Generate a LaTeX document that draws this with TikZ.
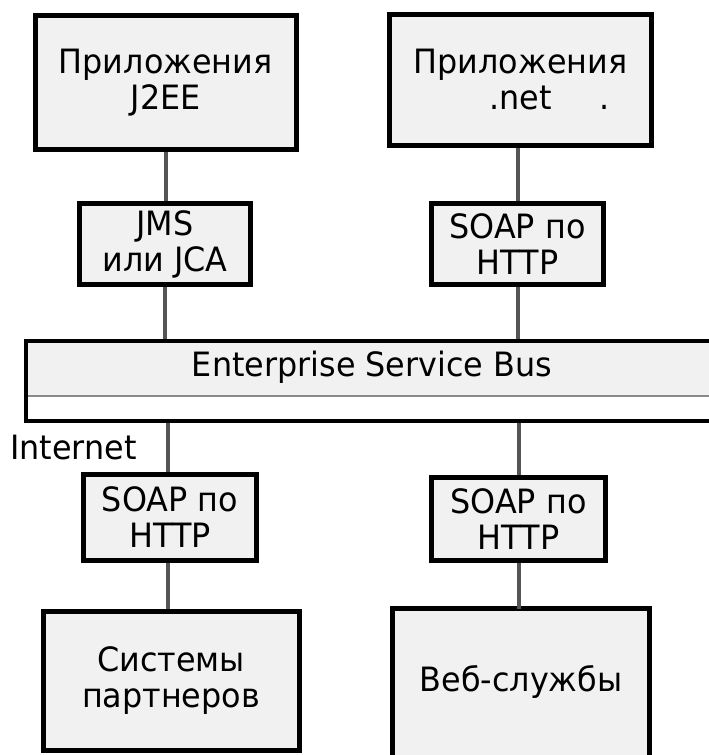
\documentclass[tikz,border=0pt]{standalone}
\usepackage{fontspec}
\setmainfont{DejaVu Sans}[FakeStretch=0.95]
\definecolor{boxfill}{HTML}{F1F1F1}
\definecolor{conngray}{HTML}{555555}
\definecolor{rulegray}{HTML}{8A8A8A}
\begin{document}
\begin{tikzpicture}[x=1pt,y=-1pt,
  txt/.style={font=\fontsize{33.5}{36}\selectfont,align=center,inner sep=0pt},
  box/.style={txt,draw=black,line width=5pt,fill=boxfill},
  openbox/.style={txt,fill=boxfill},
  conn/.style={draw=conngray,line width=4pt}]
\useasboundingbox (0,0) rectangle (709,755);

% top applications
\node[box,minimum width=261pt,minimum height=134pt] (appA) at (165.6,82.5) {Приложения\\J2EE};
\node[box,minimum width=262pt,minimum height=131pt] (appB) at (520.5,80) {Приложения\\.net\rlap{\hspace{48pt}.}};

% adapters
\node[box,minimum width=171pt,minimum height=81pt] (jms) at (165,244) {JMS\\или JCA};
\node[box,minimum width=172pt,minimum height=81pt] (soapTR) at (517.5,244) {SOAP по\\HTTP};

% enterprise service bus
\fill[boxfill] (25.5,341) rectangle (716,396);
\draw[rulegray,line width=2pt] (25.5,396) -- (716,396);
\node[draw=black,line width=4pt,minimum width=690pt,minimum height=80pt,inner sep=0pt] (esb) at (370.75,381) {};
\node[txt] (esblabel) at (372,367) {Enterprise Service Bus};

% internet label
\node[txt,anchor=base west] (inet) at (10,459) {Internet};

% bottom adapters
\node[box,minimum width=173pt,minimum height=86pt] (soapBL) at (170,517.5) {SOAP по\\HTTP};
\node[box,minimum width=174pt,minimum height=83pt] (soapBR) at (518.5,519) {SOAP по\\HTTP};

% bottom systems
\node[box,minimum width=256pt,minimum height=139pt] (partners) at (171,681) {Системы\\партнеров};
\node[openbox,minimum width=257pt,minimum height=146pt] (web) at (521,682) {Веб-службы};
\draw[black,line width=5pt] ([yshift=-20pt]web.south west) -- (web.north west) -- (web.north east) -- ([yshift=-20pt]web.south east);

% connectors
\draw[conn] (appA.south) -- (appA.south |- jms.north);
\draw[conn] (jms.south) -- (jms.south |- esb.north);
\draw[conn] (soapTR.north |- appB.south) -- (soapTR.north);
\draw[conn] (soapTR.south) -- (soapTR.south |- esb.north);
\draw[conn] ([xshift=-2pt]soapBL.north |- esb.south) -- ([xshift=-2pt]soapBL.north);
\draw[conn] ([xshift=-2pt]soapBL.south) -- ([xshift=-2pt]soapBL.south |- partners.north);
\draw[conn] (soapBR.north |- esb.south) -- (soapBR.north);
\draw[conn] (soapBR.south) -- (soapBR.south |- web.north);
\end{tikzpicture}
\end{document}
